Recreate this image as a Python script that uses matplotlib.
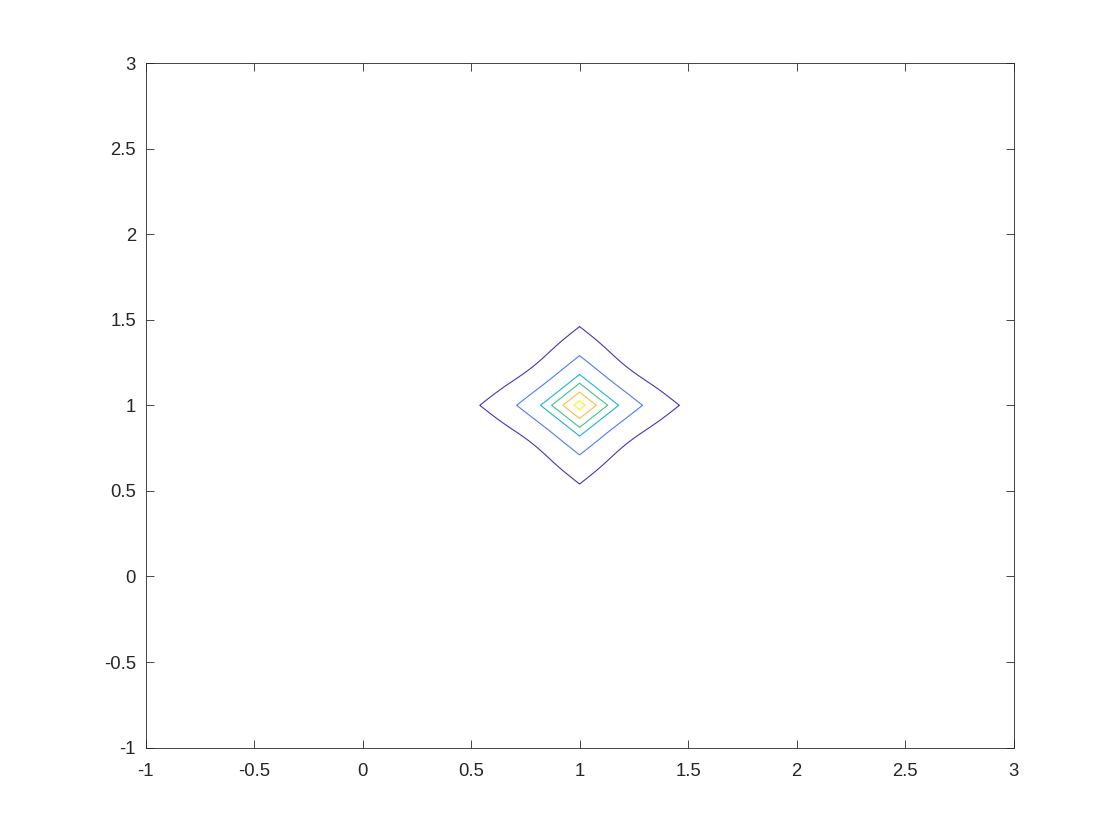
import numpy as np
import matplotlib
matplotlib.use("Agg")
import matplotlib.pyplot as plt

# Data
center = (1.0, 1.0)
level_radii = [0.026, 0.077, 0.129, 0.18, 0.29, 0.46]   # L1 half-widths of the contours
outer_dip = 0.05                                          # inward dip of the outer contour along diagonals
x_ticks = [-1, -0.5, 0, 0.5, 1, 1.5, 2, 2.5, 3]
y_ticks = [-1, -0.5, 0, 0.5, 1, 1.5, 2, 2.5, 3]
x_labels = ['-1', '-0.5', '0', '0.5', '1', '1.5', '2', '2.5', '3']
y_labels = ['-1', '-0.5', '0', '0.5', '1', '1.5', '2', '2.5', '3']

# parula-like colours, innermost first
level_colors = ['#f9f412', '#fbbd3c', '#40c680', '#1fb2d8', '#4f7cf4', '#4a35b4']

plt.rcParams['font.family'] = ['Liberation Sans', 'DejaVu Sans']
fig = plt.figure(figsize=(11.2, 8.4), dpi=100)
ax = fig.add_axes([0.13, 0.11, 0.775, 0.815])

xs = np.linspace(-1, 3, 1601)
ys = np.linspace(-1, 3, 1601)
X, Y = np.meshgrid(xs, ys)
dx = np.abs(X - center[0])
dy = np.abs(Y - center[1])
r = dx + dy
t = np.where(r > 0, dx / np.where(r > 0, r, 1), 0)
Z = r * (1 + outer_dip * (r / max(level_radii)) ** 4 * np.sin(np.pi * t) ** 4)

ax.contour(X, Y, Z, levels=level_radii, colors=level_colors, linewidths=0.8)

ax.set_xlim(-1, 3)
ax.set_ylim(-1, 3)
ax.set_xticks(x_ticks)
ax.set_xticklabels(x_labels)
ax.set_yticks(y_ticks)
ax.set_yticklabels(y_labels)
ax.tick_params(direction='in', top=True, right=True, length=6, width=0.6,
               labelsize=13.3, colors='#262626')
ax.tick_params(axis='x', pad=11)
ax.tick_params(axis='y', pad=7)
for s in ax.spines.values():
    s.set_linewidth(0.6)
    s.set_color('#262626')

fig.savefig('out.png', dpi=100)
